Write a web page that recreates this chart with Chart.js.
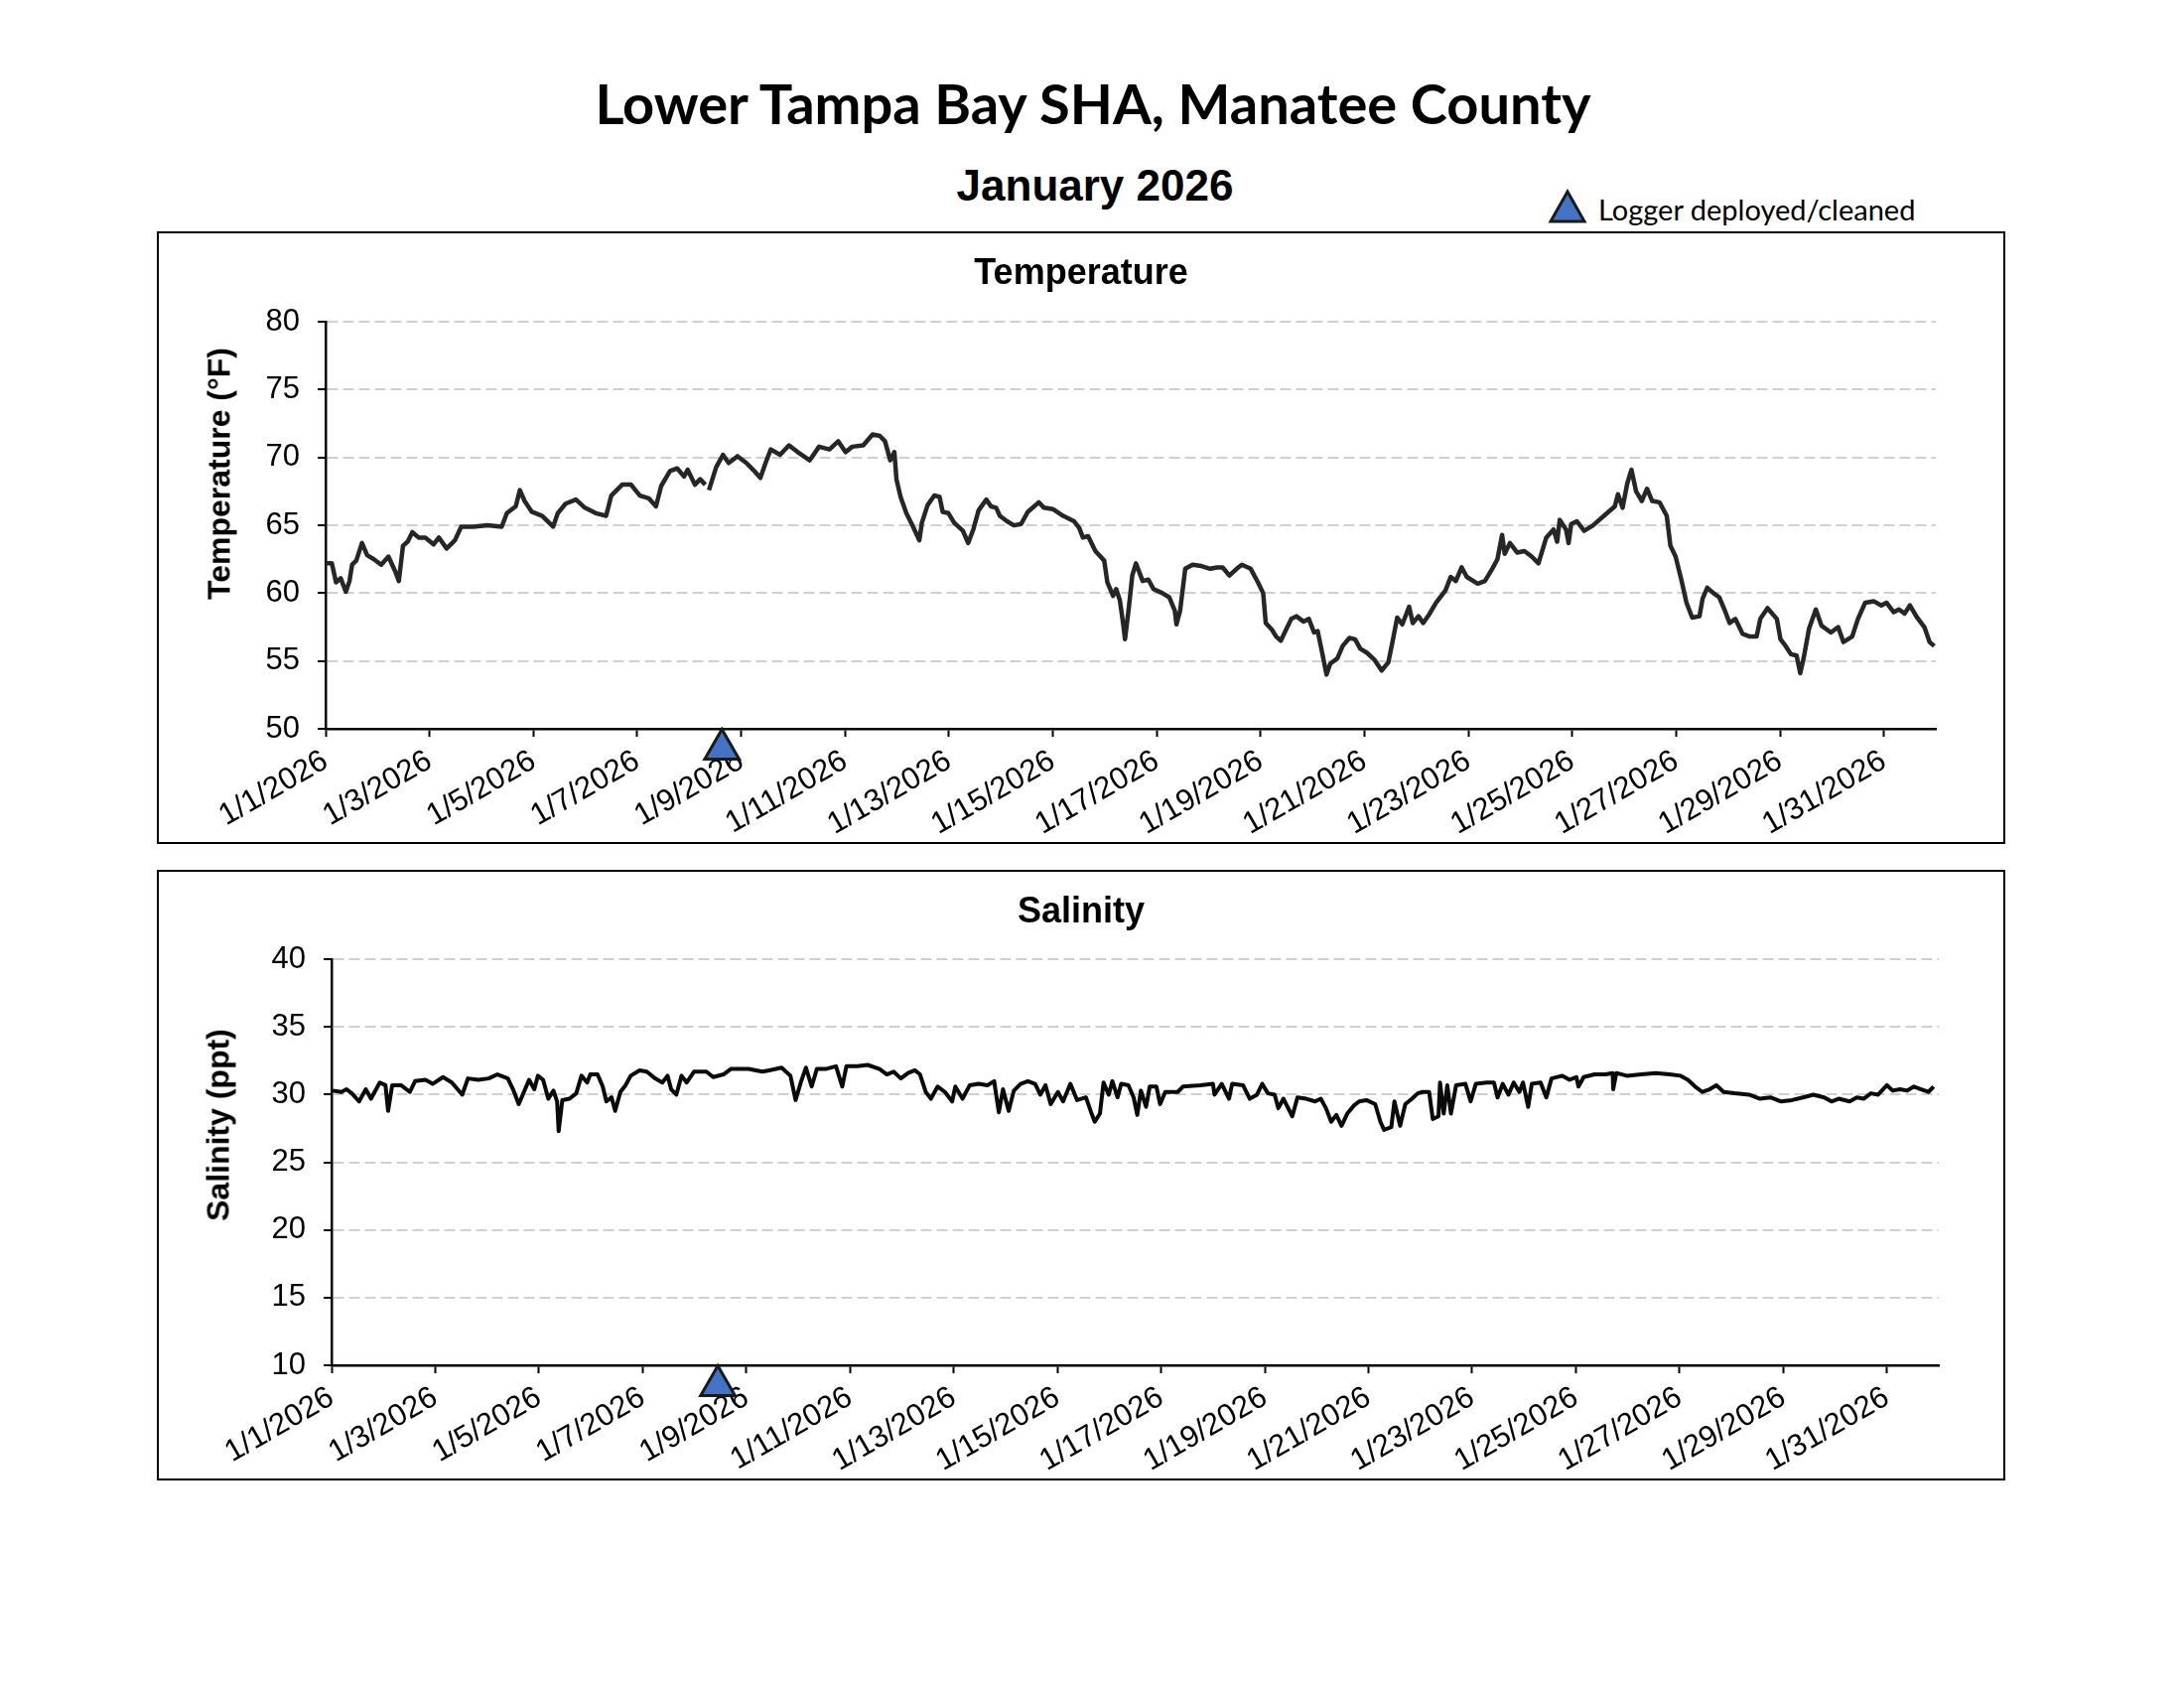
<!DOCTYPE html>
<html>
<head>
<meta charset="utf-8">
<title>Lower Tampa Bay SHA, Manatee County - January 2026</title>
<script src="https://cdn.jsdelivr.net/npm/chart.js@4.4.1/dist/chart.umd.min.js"></script>
<style>
    html, body { margin: 0; padding: 0; background: #fff; }
    #page { position: relative; width: 2200px; height: 1700px; background: #fff; overflow: hidden; }
    .txt { position: absolute; white-space: nowrap; color: #000; line-height: 1; }
    #mainTitle { left: 1101px; top: 103px; transform: translate(-50%, -50%); font: bold 56px Lato, sans-serif; }
    #subTitle { left: 1103px; top: 187px; transform: translate(-50%, -50%); font: bold 44px "Liberation Sans", Arial, sans-serif; }
    #legendMark { position: absolute; left: 1559px; top: 190px; }
    #legendText { left: 1610px; top: 210px; transform: translateY(-50%); font: 29px Lato, sans-serif; }
    .panel { position: absolute; left: 158px; width: 1858px; border: 2px solid #000; background: #fff; }
    .panel canvas { display: block; }
    #tempPanel { top: 233px; height: 613px; }
    #salPanel { top: 876px; height: 611px; }
    .ytitle { transform: translate(-50%, -50%) rotate(-90deg); font: bold 32px "Liberation Sans", Arial, sans-serif; }
    #tempYTitle { left: 221px; top: 477px; }
    #salYTitle { left: 220px; top: 1133px; }
</style>
</head>
<body>
<div id="page">
    <div class="txt" id="mainTitle">Lower Tampa Bay SHA, Manatee County</div>
    <div class="txt" id="subTitle">January 2026</div>
    <svg id="legendMark" width="40" height="36" viewBox="0 0 40 36">
        <polygon points="20,3 37,33 3,33" fill="#4472C4" stroke="#1a1a1a" stroke-width="3" stroke-linejoin="miter"/>
    </svg>
    <div class="txt" id="legendText">Logger deployed/cleaned</div>

    <div class="panel" id="tempPanel"><canvas id="temp-chart" width="1858" height="613"></canvas></div>
    <div class="panel" id="salPanel"><canvas id="sal-chart" width="1858" height="611"></canvas></div>

    <div class="txt ytitle" id="tempYTitle">Temperature (°F)</div>
    <div class="txt ytitle" id="salYTitle">Salinity (ppt)</div>
</div>

<script>
// x values are days since 1/1/2026 00:00
const tickDays = [0, 2, 4, 6, 8, 10, 12, 14, 16, 18, 20, 22, 24, 26, 28, 30];
const tickLabels = ['1/1/2026', '1/3/2026', '1/5/2026', '1/7/2026', '1/9/2026', '1/11/2026', '1/13/2026', '1/15/2026',
    '1/17/2026', '1/19/2026', '1/21/2026', '1/23/2026', '1/25/2026', '1/27/2026', '1/29/2026', '1/31/2026'];

const tempDays = [
    0.00, 0.12, 0.20, 0.29, 0.39, 0.46, 0.51, 0.59, 0.70, 0.80, 0.93, 1.07, 1.21, 1.34, 1.41, 1.49, 1.58, 1.67, 1.79, 1.92,
    2.08, 2.18, 2.33, 2.49, 2.61, 2.84, 3.12, 3.39, 3.49, 3.66, 3.74, 3.83, 3.97, 4.17, 4.38, 4.47, 4.62, 4.82, 4.99, 5.20,
    5.40, 5.50, 5.71, 5.88, 6.05, 6.22, 6.36, 6.46, 6.63, 6.77, 6.90, 6.97, 7.11, 7.21, 7.31, 7.34, 7.38, 7.52, 7.65, 7.76,
    7.93, 8.10, 8.23, 8.37, 8.47, 8.57, 8.75, 8.92, 9.09, 9.32, 9.50, 9.70, 9.87, 10.01, 10.14, 10.35, 10.53, 10.67, 10.77, 10.87,
    10.95, 10.99, 11.07, 11.18, 11.31, 11.43, 11.48, 11.59, 11.72, 11.82, 11.88, 11.99, 12.10, 12.27, 12.37, 12.47, 12.57, 12.72, 12.81, 12.91,
    12.98, 13.12, 13.25, 13.39, 13.52, 13.73, 13.83, 14.00, 14.20, 14.41, 14.51, 14.58, 14.68, 14.82, 14.99, 15.05, 15.16, 15.22, 15.29, 15.36,
    15.39, 15.46, 15.53, 15.60, 15.73, 15.84, 15.94, 16.11, 16.24, 16.35, 16.38, 16.45, 16.55, 16.69, 16.86, 17.03, 17.16, 17.27, 17.40, 17.54,
    17.64, 17.81, 17.95, 18.05, 18.10, 18.22, 18.30, 18.39, 18.49, 18.59, 18.69, 18.83, 18.93, 19.03, 19.10, 19.17, 19.27, 19.34, 19.48, 19.58,
    19.71, 19.82, 19.92, 20.05, 20.19, 20.33, 20.46, 20.56, 20.63, 20.73, 20.86, 20.93, 21.04, 21.13, 21.24, 21.38, 21.56, 21.66, 21.76, 21.87,
    21.97, 22.18, 22.32, 22.46, 22.56, 22.65, 22.70, 22.80, 22.94, 23.08, 23.22, 23.35, 23.50, 23.64, 23.71, 23.76, 23.88, 23.93, 23.98, 24.09,
    24.23, 24.40, 24.61, 24.82, 24.88, 24.97, 25.06, 25.14, 25.23, 25.34, 25.44, 25.54, 25.68, 25.82, 25.89, 25.99, 26.10, 26.20, 26.31, 26.45,
    26.51, 26.60, 26.72, 26.83, 26.93, 27.03, 27.14, 27.28, 27.42, 27.55, 27.62, 27.76, 27.94, 28.01, 28.11, 28.21, 28.32, 28.39, 28.46, 28.56,
    28.69, 28.80, 28.98, 29.12, 29.22, 29.39, 29.50, 29.64, 29.81, 29.95, 30.05, 30.19, 30.29, 30.40, 30.50, 30.64, 30.78, 30.88, 30.97
];
const tempValues = [
    62.2, 62.2, 60.8, 61.1, 60.1, 60.9, 62.1, 62.4, 63.7, 62.8, 62.5, 62.1, 62.7, 61.6, 60.9, 63.5, 63.8, 64.5, 64.1, 64.1,
    63.6, 64.1, 63.3, 63.9, 64.9, 64.9, 65.0, 64.9, 65.9, 66.4, 67.6, 66.8, 66.0, 65.7, 64.9, 65.9, 66.6, 66.9, 66.3, 65.9,
    65.7, 67.2, 68.0, 68.0, 67.2, 67.0, 66.4, 67.9, 69.0, 69.2, 68.6, 69.1, 68.0, 68.4, 68.0, null, 67.6, 69.3, 70.2, 69.6,
    70.1, 69.6, 69.1, 68.5, 69.6, 70.6, 70.2, 70.9, 70.4, 69.8, 70.8, 70.6, 71.2, 70.4, 70.8, 70.9, 71.7, 71.6, 71.2, 69.8,
    70.4, 68.4, 67.1, 65.9, 64.9, 63.9, 65.2, 66.5, 67.2, 67.1, 66.0, 65.9, 65.2, 64.6, 63.7, 64.7, 66.1, 66.9, 66.4, 66.3,
    65.7, 65.3, 65.0, 65.1, 66.0, 66.7, 66.3, 66.2, 65.7, 65.3, 64.8, 64.1, 64.2, 63.1, 62.4, 60.8, 59.8, 60.3, 59.5, 57.6,
    56.6, 58.8, 61.3, 62.2, 60.9, 61.0, 60.3, 60.0, 59.7, 58.7, 57.7, 58.7, 61.8, 62.1, 62.0, 61.8, 61.9, 61.9, 61.3, 61.8,
    62.1, 61.8, 60.8, 60.0, 57.8, 57.3, 56.8, 56.5, 57.3, 58.1, 58.3, 57.9, 58.1, 57.1, 57.2, 55.9, 54.0, 54.8, 55.2, 56.1,
    56.7, 56.6, 55.9, 55.6, 55.1, 54.3, 54.9, 56.8, 58.2, 57.7, 59.0, 57.8, 58.3, 57.8, 58.4, 59.3, 60.2, 61.2, 60.9, 61.9,
    61.2, 60.7, 60.9, 61.8, 62.5, 64.3, 62.9, 63.7, 63.0, 63.1, 62.7, 62.2, 64.1, 64.7, 63.8, 65.4, 64.7, 63.7, 65.1, 65.3,
    64.6, 65.0, 65.7, 66.4, 67.3, 66.3, 68.1, 69.1, 67.5, 66.8, 67.7, 66.8, 66.7, 65.7, 63.5, 62.7, 61.0, 59.3, 58.2, 58.3,
    59.6, 60.4, 60.0, 59.7, 58.8, 57.8, 58.1, 57.0, 56.8, 56.8, 58.1, 58.9, 58.1, 56.6, 56.1, 55.5, 55.4, 54.1, 55.3, 57.4,
    58.8, 57.6, 57.1, 57.5, 56.4, 56.8, 58.1, 59.3, 59.4, 59.1, 59.3, 58.6, 58.8, 58.5, 59.1, 58.2, 57.5, 56.4, 56.1
];

const salDays = [
    0.02, 0.19, 0.29, 0.39, 0.53, 0.66, 0.76, 0.93, 1.04, 1.09, 1.17, 1.34, 1.51, 1.61, 1.81, 1.95, 2.15, 2.32, 2.52, 2.63,
    2.83, 3.03, 3.20, 3.40, 3.50, 3.61, 3.71, 3.81, 3.91, 3.98, 4.08, 4.18, 4.28, 4.35, 4.38, 4.45, 4.59, 4.72, 4.82, 4.93,
    4.99, 5.13, 5.23, 5.30, 5.40, 5.47, 5.57, 5.67, 5.77, 5.94, 6.08, 6.24, 6.38, 6.48, 6.55, 6.65, 6.75, 6.85, 6.99, 7.23,
    7.36, 7.56, 7.70, 8.04, 8.31, 8.44, 8.68, 8.85, 8.95, 9.05, 9.15, 9.26, 9.36, 9.53, 9.73, 9.85, 9.93, 10.14, 10.34, 10.57,
    10.71, 10.84, 10.98, 11.12, 11.25, 11.35, 11.46, 11.56, 11.69, 11.83, 11.97, 12.03, 12.17, 12.31, 12.48, 12.65, 12.78, 12.87, 12.95, 13.06,
    13.16, 13.29, 13.43, 13.57, 13.67, 13.77, 13.87, 14.01, 14.11, 14.25, 14.38, 14.55, 14.65, 14.72, 14.82, 14.89, 14.99, 15.06, 15.16, 15.23,
    15.37, 15.47, 15.54, 15.61, 15.71, 15.78, 15.91, 15.98, 16.08, 16.32, 16.42, 16.76, 17.00, 17.03, 17.17, 17.31, 17.37, 17.58, 17.71, 17.85,
    17.95, 18.06, 18.19, 18.26, 18.36, 18.53, 18.63, 18.80, 18.97, 19.08, 19.18, 19.28, 19.38, 19.48, 19.59, 19.72, 19.82, 19.96, 20.13, 20.23,
    20.30, 20.44, 20.50, 20.61, 20.71, 20.84, 20.95, 21.04, 21.17, 21.24, 21.35, 21.38, 21.45, 21.52, 21.59, 21.69, 21.87, 21.97, 22.07, 22.28,
    22.42, 22.49, 22.59, 22.70, 22.80, 22.91, 22.98, 23.08, 23.15, 23.32, 23.43, 23.53, 23.74, 23.88, 24.01, 24.05, 24.15, 24.36, 24.57, 24.71,
    24.72, 24.78, 24.98, 25.26, 25.54, 25.81, 26.02, 26.16, 26.30, 26.44, 26.58, 26.71, 26.85, 27.06, 27.34, 27.55, 27.75, 27.96, 28.17, 28.38,
    28.58, 28.79, 28.93, 29.07, 29.28, 29.42, 29.55, 29.69, 29.83, 30.00, 30.11, 30.25, 30.39, 30.52, 30.66, 30.80, 30.90
];
const salValues = [
    30.3, 30.2, 30.4, 30.1, 29.5, 30.4, 29.7, 30.9, 30.7, 28.8, 30.7, 30.7, 30.2, 31.0, 31.1, 30.8, 31.3, 30.9, 30.0, 31.2,
    31.1, 31.2, 31.5, 31.2, 30.4, 29.3, 30.2, 31.1, 30.4, 31.4, 31.1, 29.7, 30.3, 29.5, 27.3, 29.6, 29.7, 30.1, 31.4, 30.9,
    31.5, 31.5, 30.6, 29.5, 29.8, 28.8, 30.2, 30.7, 31.4, 31.8, 31.7, 31.2, 30.9, 31.4, 30.4, 30.0, 31.4, 30.9, 31.7, 31.7,
    31.3, 31.5, 31.9, 31.9, 31.7, 31.8, 32.0, 31.4, 29.6, 30.9, 32.0, 30.6, 31.9, 31.9, 32.1, 30.6, 32.1, 32.1, 32.2, 31.9,
    31.5, 31.7, 31.2, 31.6, 31.8, 31.5, 30.2, 29.7, 30.6, 30.2, 29.5, 30.6, 29.7, 30.7, 30.8, 30.7, 31.0, 28.7, 30.4, 28.8,
    30.3, 30.8, 31.0, 30.8, 30.0, 30.7, 29.3, 30.2, 29.5, 30.8, 29.6, 29.8, 28.7, 28.0, 28.6, 30.9, 30.0, 31.0, 29.8, 30.8,
    30.7, 29.8, 28.5, 30.3, 29.1, 30.6, 30.6, 29.3, 30.2, 30.2, 30.6, 30.7, 30.8, 30.0, 30.8, 29.7, 30.8, 30.7, 29.7, 30.0,
    30.8, 30.1, 30.0, 29.0, 29.7, 28.4, 29.8, 29.7, 29.5, 29.7, 29.0, 28.0, 28.5, 27.7, 28.6, 29.2, 29.5, 29.6, 29.3, 28.0,
    27.4, 27.6, 29.5, 27.7, 29.3, 29.7, 30.1, 30.2, 30.2, 28.2, 28.4, 30.9, 28.6, 30.7, 28.6, 30.7, 30.8, 29.5, 30.8, 30.9,
    30.9, 29.8, 30.8, 30.0, 30.9, 30.2, 30.9, 29.1, 30.8, 30.9, 29.8, 31.2, 31.4, 31.1, 31.3, 30.6, 31.3, 31.5, 31.5, 31.6,
    30.4, 31.6, 31.4, 31.5, 31.6, 31.5, 31.4, 31.1, 30.6, 30.2, 30.4, 30.7, 30.2, 30.1, 30.0, 29.7, 29.8, 29.5, 29.6, 29.8,
    30.0, 29.8, 29.5, 29.7, 29.5, 29.8, 29.7, 30.1, 30.0, 30.7, 30.3, 30.4, 30.3, 30.6, 30.4, 30.2, 30.6
];

// logger deployed/cleaned marker, sits just under the x axis
const tempMarkerDays = [7.63];
const tempMarkerValues = [48.5];
const salMarkerDays = [7.45];
const salMarkerValues = [8.5];

const tickFont = { family: '"Liberation Sans", Arial, sans-serif', size: 31 };

function toPoints(days, values) {
    return days.map((d, i) => ({ x: d, y: values[i] }));
}

function makeChart(canvasId, cfg) {
    const ctx = document.getElementById(canvasId).getContext('2d');
    return new Chart(ctx, {
        type: 'line',
        data: {
            datasets: [
                {
                    label: cfg.title,
                    data: toPoints(cfg.days, cfg.values),
                    borderColor: cfg.lineColor,
                    borderWidth: cfg.lineWidth,
                    borderJoinStyle: 'round',
                    pointRadius: 0,
                    tension: 0,
                    spanGaps: false,
                    order: 2,
                },
                {
                    label: 'Logger deployed/cleaned',
                    data: toPoints(cfg.markerDays, cfg.markerValues),
                    showLine: false,
                    pointStyle: 'triangle',
                    pointRadius: 20,
                    pointBackgroundColor: '#4472C4',
                    pointBorderColor: '#1a1a1a',
                    pointBorderWidth: 3,
                    clip: false,
                    order: 1,
                }
            ]
        },
        options: {
            responsive: false,
            animation: false,
            devicePixelRatio: 1,
            layout: {
                // equal side padding keeps the panel title centred on the box
                padding: { left: cfg.sidePad, right: cfg.sidePad, top: 0, bottom: 0 }
            },
            plugins: {
                legend: { display: false },
                tooltip: { enabled: false },
                title: {
                    display: true,
                    text: cfg.title,
                    color: '#000',
                    font: { family: '"Liberation Sans", Arial, sans-serif', size: 36, weight: 'bold' },
                    padding: { top: 19, bottom: cfg.titleGap }
                }
            },
            scales: {
                x: {
                    type: 'linear',
                    min: 0,
                    max: 31,
                    afterBuildTicks: (scale) => {
                        scale.ticks = tickDays.map((v) => ({ value: v }));
                    },
                    afterFit: (scale) => {
                        scale.height = cfg.xAxisHeight;
                    },
                    ticks: {
                        autoSkip: false,
                        minRotation: 30,
                        maxRotation: 30,
                        padding: 6,
                        color: '#000',
                        font: tickFont,
                        callback: (value, index) => tickLabels[index],
                    },
                    grid: {
                        drawOnChartArea: false,
                        drawTicks: true,
                        tickLength: 8,
                        tickWidth: 2,
                        tickColor: '#000',
                    },
                    border: { display: true, color: '#000', width: 2.5 },
                },
                y: {
                    type: 'linear',
                    min: cfg.yMin,
                    max: cfg.yMax,
                    afterFit: (scale) => {
                        scale.width = cfg.yAxisWidth;
                    },
                    ticks: {
                        stepSize: 5,
                        padding: 18,
                        color: '#000',
                        font: tickFont,
                    },
                    grid: {
                        color: '#d0d0d0',
                        lineWidth: 2,
                        drawTicks: true,
                        tickLength: 8,
                        tickWidth: 2,
                        tickColor: '#000',
                        tickBorderDash: [],
                    },
                    border: { display: true, color: '#000', width: 2.5, dash: [11, 5] },
                },
            }
        }
    });
}

document.addEventListener('DOMContentLoaded', () => {
    makeChart('temp-chart', {
        title: 'Temperature',
        days: tempDays,
        values: tempValues,
        markerDays: tempMarkerDays,
        markerValues: tempMarkerValues,
        lineColor: '#262626',
        lineWidth: 4.5,
        yMin: 50,
        yMax: 80,
        yAxisWidth: 100,
        xAxisHeight: 114,
        sidePad: 68,
        titleGap: 27,
    });

    makeChart('sal-chart', {
        title: 'Salinity',
        days: salDays,
        values: salValues,
        markerDays: salMarkerDays,
        markerValues: salMarkerValues,
        lineColor: '#0a0a0a',
        lineWidth: 4,
        yMin: 10,
        yMax: 40,
        yAxisWidth: 109,
        xAxisHeight: 114,
        sidePad: 65,
        titleGap: 26,
    });
});
</script>
</body>
</html>
